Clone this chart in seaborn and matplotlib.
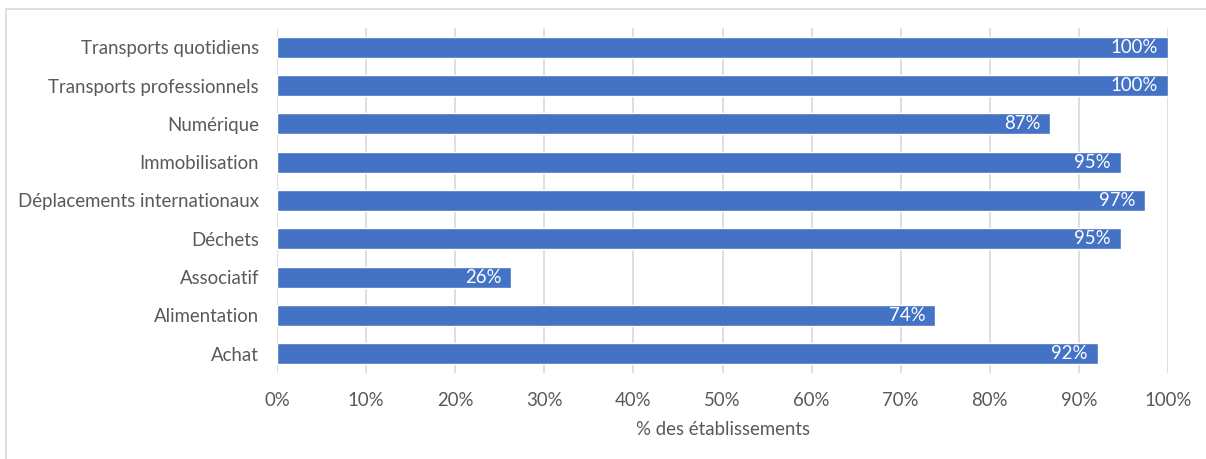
import matplotlib
matplotlib.use("Agg")
import matplotlib.pyplot as plt
import seaborn as sns
import pandas as pd
from matplotlib.patches import Rectangle

categories = ["Transports quotidiens", "Transports professionnels", "Numérique",
              "Immobilisation", "Déplacements internationaux", "Déchets",
              "Associatif", "Alimentation", "Achat"]
values = [100.0, 100.0, 86.8, 94.7, 97.4, 94.7, 26.3, 73.9, 92.1]
xticks = [0, 10, 20, 30, 40, 50, 60, 70, 80, 90, 100]
xlabel = "% des établissements"

df = pd.DataFrame({"cat": categories, "val": values})

sns.set_theme(style="white")
plt.rcParams['font.family'] = ['Lato', 'DejaVu Sans']

W, H = 1206, 459
FS = 13.4
fig = plt.figure(figsize=(W / 100, H / 100), dpi=100)
ax = fig.add_axes([277 / W, 1 - 373 / H, (1168 - 277) / W, (373 - 28) / H])

sns.barplot(data=df, x="val", y="cat", orient="h", color="#4472C4",
            saturation=1, width=0.55, ax=ax, zorder=3)

ax.set_xlim(0, 100)
ax.set_ylim(8.5, -0.5)
ax.set_xticks(xticks)
ax.set_xticklabels([f"{t}%" for t in xticks])
ax.grid(axis="x", color="#D9D9D9", linewidth=1.2, zorder=0)
ax.grid(axis="y", visible=False)
for s in ax.spines.values():
    s.set_visible(False)
ax.tick_params(axis="both", length=0, colors="#595959", labelsize=FS)
ax.tick_params(axis="y", pad=13)
ax.tick_params(axis="x", pad=14)
ax.set_ylabel("")
ax.set_xlabel(xlabel, color="#595959", fontsize=FS, labelpad=8)

for i, v in enumerate(values):
    ax.text(v - 1.1, i, f"{round(v)}%", ha="right", va="center",
            color="white", fontsize=FS, zorder=4)

fig.patches.append(Rectangle((6 / W, -0.01), 1.02, 1 - 9 / H + 0.01,
                             transform=fig.transFigure, fill=False,
                             edgecolor="#D9D9D9", linewidth=1.2))

fig.savefig("out.png", dpi=100, facecolor="white")
